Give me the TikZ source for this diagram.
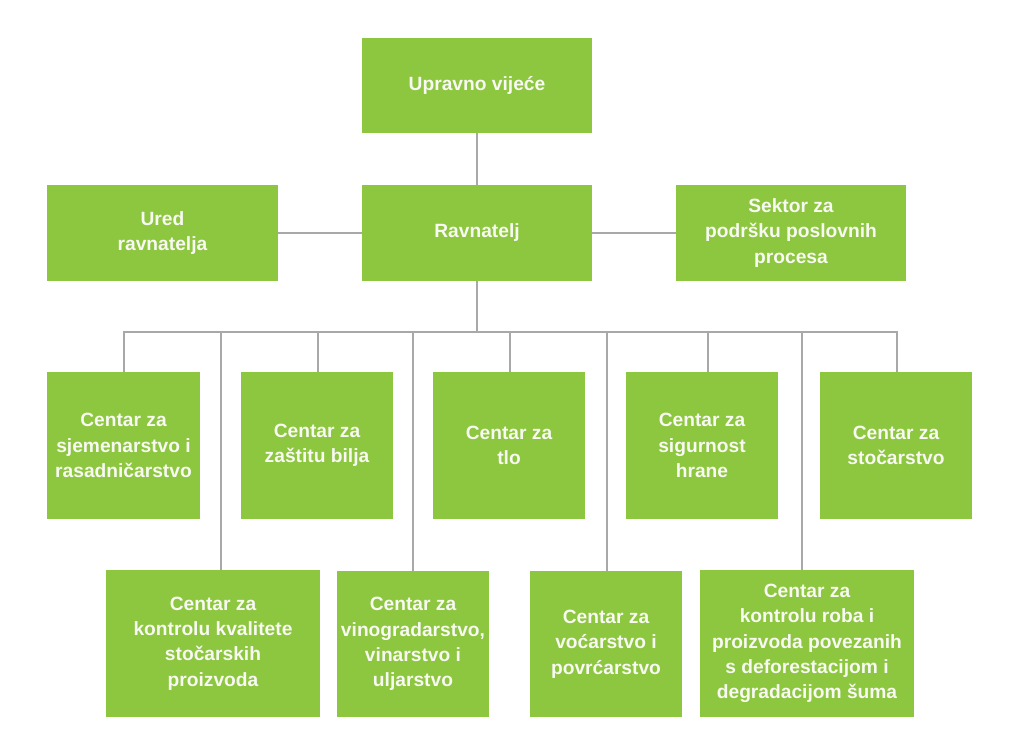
\documentclass[tikz,border=0pt]{standalone}
\usepackage{fontspec}
\setmainfont{Liberation Sans}
\definecolor{boxgreen}{HTML}{8DC63F}
\definecolor{linegray}{HTML}{A8A8A8}
\definecolor{txt}{HTML}{F7F9F2}
\begin{document}
\begin{tikzpicture}[x=1pt,y=-1pt,
  box/.style={fill=boxgreen,draw=none,inner sep=0pt,align=center,
    text=txt,font=\bfseries\fontsize{19.2}{25.3}\selectfont},
  conn/.style={draw=linegray,line width=2.8pt}]
\useasboundingbox[fill=white] (0,0) rectangle (1024,746);
\newcommand{\bx}[6]{\node[box,minimum width=#4-#2,minimum height=#5-#3] (#1) at ({(#2+#4)/2},{(#3+#5)/2}) {#6};}
\bx{uv}{362}{38}{592}{133}{Upravno vijeće}
\bx{ur}{47}{185}{278}{281}{Ured\\ravnatelja}
\bx{rv}{362}{185}{592}{281}{Ravnatelj}
\bx{sk}{676}{185}{906}{281}{Sektor za\\podršku poslovnih\\procesa}
\bx{a1}{47}{372}{200}{519}{Centar za\\sjemenarstvo i\\rasadničarstvo}
\bx{a2}{241}{372}{393}{519}{Centar za\\zaštitu bilja}
\bx{a3}{433}{372}{585}{519}{Centar za\\tlo}
\bx{a4}{626}{372}{778}{519}{Centar za\\sigurnost\\hrane}
\bx{a5}{820}{372}{972}{519}{Centar za\\stočarstvo}
\bx{b1}{106}{570}{320}{717}{Centar za\\kontrolu kvalitete\\stočarskih\\proizvoda}
\bx{b2}{337}{571}{489}{717}{Centar za\\vinogradarstvo,\\vinarstvo i\\uljarstvo}
\bx{b3}{530}{571}{682}{717}{Centar za\\voćarstvo i\\povrćarstvo}
\bx{b4}{700}{570}{914}{717}{Centar za\\kontrolu roba i\\proizvoda povezanih\\s deforestacijom i\\degradacijom šuma}
\coordinate (bus) at (477,332);
\coordinate (busL) at (124,332);
\coordinate (busR) at (897,332);
\draw[conn] (uv.south) -- (rv.north);
\draw[conn] (ur.east) -- (rv.west);
\draw[conn] (rv.east) -- (sk.west);
\draw[conn] (rv.south) -- (bus);
\draw[conn,line join=miter] (a1.north -| busL) -- (busL) -- (busR) -- (a5.north -| busR);
\draw[conn] (318,332) -- (a2.north -| 318,0);
\draw[conn] (510,332) -- (a3.north -| 510,0);
\draw[conn] (708,332) -- (a4.north -| 708,0);
\draw[conn] (221,332) -- (b1.north -| 221,0);
\draw[conn] (413,332) -- (b2.north -| 413,0);
\draw[conn] (607,332) -- (b3.north -| 607,0);
\draw[conn] (802,332) -- (b4.north -| 802,0);
\end{tikzpicture}
\end{document}
